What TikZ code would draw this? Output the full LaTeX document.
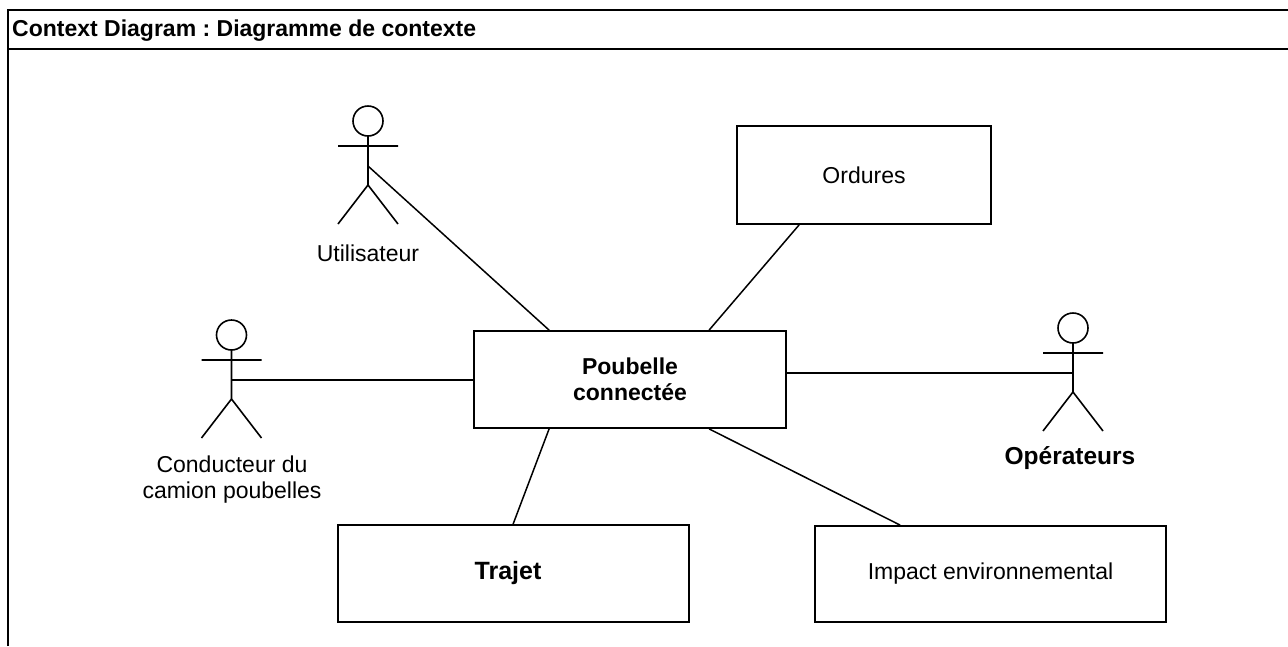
\documentclass[tikz,border=0pt]{standalone}
\usepackage{fontspec}
\setmainfont{Liberation Sans}
\frenchspacing
\begin{document}
\begin{tikzpicture}[x=1pt,y=-1pt,
  lbl/.style={font=\fontsize{23}{26}\selectfont, align=center, inner sep=0pt},
  box/.style={draw, line width=1.8pt, inner sep=0pt, align=center, font=\fontsize{23}{26}\selectfont},
  conn/.style={line width=1.5pt},
  frameline/.style={line width=2pt},
  actorline/.style={line width=1.6pt},
  actor/.pic={
    \draw[actorline] (0,0) circle[radius=15];
    \draw[actorline] (0,15) -- (0,64) (-30,25) -- (30,25) (-30,103) -- (0,64) -- (30,103);
    \coordinate (-hand) at (0,45);
  }]
\useasboundingbox (0,0) rectangle (1288,646);
% frame
\draw[frameline] (8,646) -- (8,10) -- (1288,10);
\draw[frameline] (8,49) -- (1288,49);
\node[anchor=west, inner sep=0pt, font=\fontsize{23}{26}\selectfont\bfseries] (title) at (12,31) {Context Diagram : Diagramme de contexte};
% boxes
\node[box, minimum width=312pt, minimum height=97pt, font=\fontsize{23}{26}\selectfont\bfseries] (pb) at (630,379.5) {Poubelle\\connectée};
\node[box, minimum width=254pt, minimum height=98pt] (ord) at (864,175) {Ordures};
\node[box, minimum width=351pt, minimum height=97pt, font=\fontsize{25}{28}\selectfont\bfseries] (traj) at (513.5,573.5) {\hspace*{-11pt}Trajet};
\node[box, minimum width=351pt, minimum height=96pt] (imp) at (990.5,574) {Impact environnemental};
% actors
\pic (util) at (368,121) {actor};
\pic (cond) at (231.5,335) {actor};
\pic (op) at (1073,328) {actor};
\node[lbl] (utillbl) at (368,253) {Utilisateur};
\node[lbl] (condlbl) at (232,480) {Conducteur du\\camion poubelles};
\node[lbl, font=\fontsize{24.5}{28}\selectfont\bfseries] (oplbl) at (1070,458) {Opérateurs};
% connectors
\draw[conn] (util-hand) -- ([xshift=76pt]pb.north west);
\draw[conn] ([xshift=236pt]pb.north west) -- ([xshift=63pt]ord.south west);
\draw[conn] (cond-hand) -- (cond-hand -| pb.west);
\draw[conn] (op-hand -| pb.east) -- (op-hand);
\draw[conn] ([xshift=76pt]pb.south west) -- ([xshift=176pt]traj.north west);
\draw[conn] ([xshift=236pt]pb.south west) -- ([xshift=86pt]imp.north west);
\end{tikzpicture}
\end{document}
